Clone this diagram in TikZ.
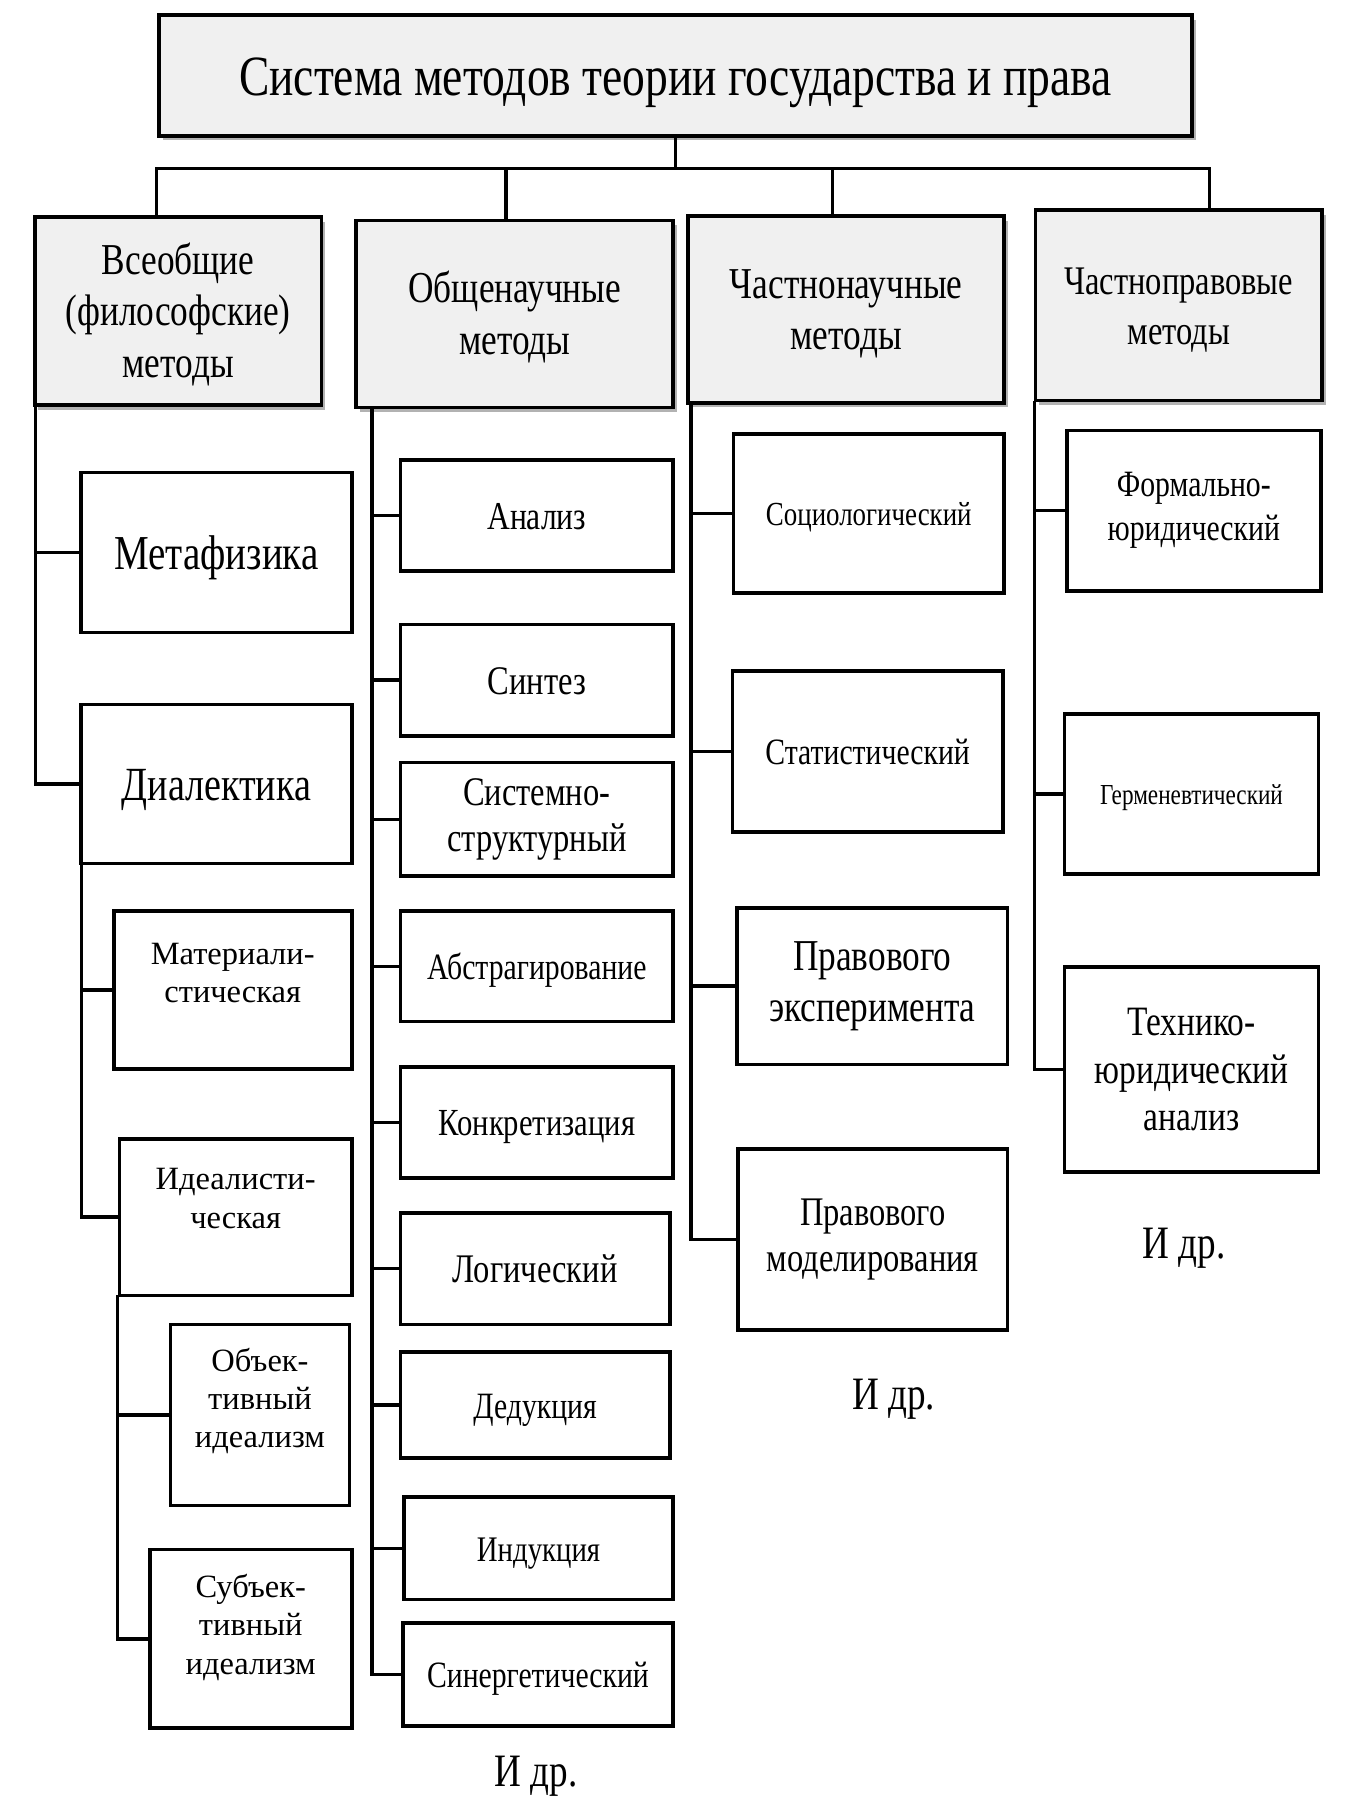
\documentclass[tikz,border=0pt]{standalone}
\usepackage{fontspec}
\setmainfont{Liberation Serif}
\newfontfamily\cond{Liberation Serif}[FakeStretch=0.8]
\usetikzlibrary{shadows}
\newcommand\fsz[2]{\fontsize{#1}{#2}\selectfont}
\begin{document}
\begin{tikzpicture}[x=1pt,y=-1pt,
  box/.style={draw=black,line width=3.2pt,fill=white,inner sep=0pt,align=center,font=\cond},
  head/.style={box,fill=black!6,drop shadow={shadow xshift=3pt,shadow yshift=-4pt,opacity=0.3,fill=black}},
  sl/.style={text height=#1*0.7pt,text depth=0pt},
  conn/.style={line width=3pt,line cap=rect},
  plain/.style={inner sep=0pt,align=center}]
\useasboundingbox (0,0) rectangle (1168,1568);
\fill[white] (0,0) rectangle (1168,1568);

% title
\node[head,sl=49,minimum width=890pt,minimum height=104pt,font=\cond\fsz{49}{56}] (title) at (582,65) {Система методов теории государства и права};

% headers
\node[head,minimum width=247pt,minimum height=162pt,font=\cond\fsz{38}{44}] (hA) at (153.5,268) {\rule{0pt}{33pt}Всеобщие\\(философские)\\методы};
\node[head,minimum width=273pt,minimum height=161pt,font=\cond\fsz{38}{45}] (hB) at (443.5,270.5) {\rule{0pt}{33pt}Общенаучные\\методы};
\node[head,minimum width=272pt,minimum height=161pt,font=\cond\fsz{38}{44}] (hC) at (729,266.5) {\rule{0pt}{33pt}Частнонаучные\\методы};
\node[head,minimum width=247pt,minimum height=164pt,font=\cond\fsz{35}{43}] (hD) at (1015.5,263) {\rule{0pt}{31pt}Частноправовые\\методы};

% bus
\coordinate (bus) at (582,145);
\coordinate (dA) at (135,145);
\coordinate (dB) at (436,145);
\coordinate (dC) at (717,145);
\coordinate (dD) at (1042,145);
\draw[conn] (title.south) -- (bus);
\draw[conn] (dA) -- (dD);
\draw[conn] (dA) -- (dA |- hA.north);
\draw[conn] (dB) -- (dB |- hB.north);
\draw[conn] (dC) -- (dC |- hC.north);
\draw[conn] (dD) -- (dD |- hD.north);

% column 1
\node[box,sl=42,minimum width=233pt,minimum height=138pt,font=\cond\fsz{42}{48}] (meta) at (186.5,476) {Метафизика};
\node[box,sl=41,minimum width=233pt,minimum height=137pt,font=\cond\fsz{41}{48}] (dial) at (186.5,675.5) {Диалектика};
\node[box,minimum width=205pt,minimum height=136pt] (mat) at (200.5,853) {};
\node[box,minimum width=200pt,minimum height=135pt] (idea) at (203,1048.5) {};
\node[box,minimum width=154pt,minimum height=156pt] (obj) at (224,1219) {};
\node[box,minimum width=174pt,minimum height=154pt] (subj) at (216,1412) {};
\node[plain,font=\fsz{28}{33}] (matT) at ([yshift=15pt]mat.center) {Материали-\\стическая};
\node[plain,font=\fsz{28}{33}] (ideaT) at ([yshift=16pt]idea.center) {Идеалисти-\\ческая};
\node[plain,font=\fsz{28}{33}] (objT) at ([yshift=12pt]obj.center) {Объек-\\тивный\\идеализм};
\node[plain,font=\fsz{28}{33}] (subjT) at ([yshift=10pt]subj.center) {Субъек-\\тивный\\идеализм};

\coordinate (sA) at ([xshift=2pt]hA.south west);
\draw[conn] (sA) |- (dial.west);
\draw[conn] (sA |- meta.west) -- (meta.west);
\coordinate (sDial) at ([xshift=2pt]dial.south west);
\draw[conn] (sDial) |- (idea.west);
\draw[conn] (sDial |- mat.west) -- (mat.west);
\coordinate (sIdea) at (idea.south west);
\draw[conn] (sIdea) |- (subj.west);
\draw[conn] (sIdea |- obj.west) -- (obj.west);

% column 2
\node[box,sl=34,minimum width=235pt,minimum height=96pt,font=\cond\fsz{34}{40}] (an) at (462.5,444) {Анализ};
\node[box,sl=35,minimum width=235pt,minimum height=96pt,font=\cond\fsz{35}{40}] (sin) at (462.5,586) {Синтез};
\node[box,minimum width=235pt,minimum height=98pt,font=\cond\fsz{35}{40}] (sis) at (462.5,706) {Системно-\\структурный};
\node[box,sl=32,minimum width=235pt,minimum height=95pt,font=\cond\fsz{32}{40}] (abs) at (462.5,832.5) {Абстрагирование};
\node[box,sl=33,minimum width=235pt,minimum height=96pt,font=\cond\fsz{33}{40}] (kon) at (462.5,967) {Конкретизация};
\node[box,sl=35,minimum width=232pt,minimum height=96pt,font=\cond\fsz{35}{40}] (log) at (461,1093) {Логический};
\node[box,sl=32,minimum width=232pt,minimum height=91pt,font=\cond\fsz{32}{40}] (ded) at (461,1210.5) {Дедукция};
\node[box,sl=31,minimum width=232pt,minimum height=88pt,font=\cond\fsz{31}{40}] (ind) at (464,1334) {Индукция};
\node[box,sl=32,minimum width=233pt,minimum height=89pt,font=\cond\fsz{32}{40}] (syn) at (463.5,1442.5) {Синергетический};
\node[plain,sl=40,font=\cond\fsz{40}{44}] (idr1) at (462,1525) {И др.};

\coordinate (sB) at ([xshift=15pt]hB.south west);
\draw[conn] (sB) |- (syn.west);
\foreach \n in {an,sin,sis,abs,kon,log,ded,ind}{\draw[conn] (sB |- \n.west) -- (\n.west);}

% column 3
\node[box,sl=29,minimum width=233pt,minimum height=137pt,font=\cond\fsz{29}{36}] (soc) at (748.5,442.5) {Социологический};
\node[box,sl=32,minimum width=233pt,minimum height=139pt,font=\cond\fsz{32}{40}] (stat) at (747.5,647.5) {Статистический};
\node[box,minimum width=233pt,minimum height=135pt,font=\cond\fsz{38}{44}] (exp) at (751.5,849.5) {Правового\\эксперимента};
\node[box,minimum width=232pt,minimum height=156pt,font=\cond\fsz{35}{40}] (mod) at (752,1068) {Правового\\моделирования};
\node[plain,sl=40,font=\cond\fsz{40}{44}] (idr2) at (770,1200) {И др.};

\coordinate (sC) at ([xshift=4pt]hC.south west);
\draw[conn] (sC) |- (mod.west);
\foreach \n in {soc,stat,exp}{\draw[conn] (sC |- \n.west) -- (\n.west);}

% column 4
\node[box,minimum width=219pt,minimum height=138pt,font=\cond\fsz{32}{38}] (form) at (1028.5,440) {Формально-\\юридический};
\node[box,sl=25,minimum width=219pt,minimum height=138pt,font=\cond\fsz{25}{30}] (germ) at (1026.5,684) {Герменевтический};
\node[box,minimum width=219pt,minimum height=177pt,font=\cond\fsz{36}{41}] (tech) at (1026.5,921.5) {Технико-\\юридический\\анализ};
\node[plain,sl=40,font=\cond\fsz{40}{44}] (idr3) at (1020,1070) {И др.};

\coordinate (sD) at ([xshift=1pt]hD.south west);
\draw[conn] (sD) |- (tech.west);
\foreach \n in {form,germ}{\draw[conn] (sD |- \n.west) -- (\n.west);}
\end{tikzpicture}
\end{document}
